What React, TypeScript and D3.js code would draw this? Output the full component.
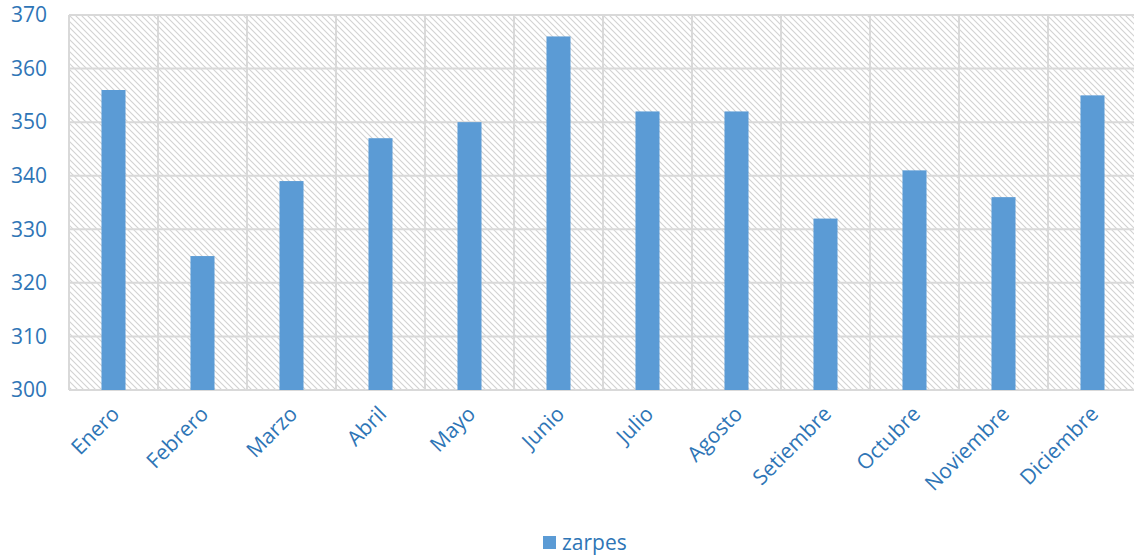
import React from "react";
import * as d3 from "d3";

const categories = ["Enero","Febrero","Marzo","Abril","Mayo","Junio","Julio","Agosto","Setiembre","Octubre","Noviembre","Diciembre"];
const zarpes = [356,325,339,347,350,366,352,352,332,341,336,355];
const yTicks = [300,310,320,330,340,350,360,370];
const seriesName = "zarpes";

const W = 1134, H = 556;
const margin = { left: 69, right: -3, top: 15, bottom: 166 };
const FONT = "'Open Sans', 'Liberation Sans', sans-serif";
const BLUE = "#5B9BD5";
const TEXT = "#2E75B6";

export default function App() {
  const x = d3.scaleBand().domain(categories).range([margin.left, W - margin.right]).paddingInner(0).paddingOuter(0);
  const y = d3.scaleLinear().domain([300, 370]).range([H - margin.bottom, margin.top]);
  const bw = x.bandwidth() * 0.27;
  const x0 = margin.left, x1 = W - margin.right, y0 = y(300), y1 = y(370);
  return (
    <svg width={W} height={H} style={{ position: "absolute", left: 0, top: 0, background: "#fff" }}>
      <defs>
        <pattern id="hatch" patternUnits="userSpaceOnUse" width="6" height="6">
          <rect width="6" height="6" fill="#fff" />
          <path d="M-1,-1 L7,7 M-7,-1 L1,7 M5,-1 L13,7" stroke="#d2d2d2" strokeWidth="1.1" />
        </pattern>
      </defs>
      <rect x={x0} y={y1} width={x1 - x0} height={y0 - y1} fill="url(#hatch)" />
      {yTicks.map(t => (
        <line key={t} x1={x0} x2={x1} y1={y(t)} y2={y(t)} stroke="#d9d9d9" strokeWidth={2} />
      ))}
      {categories.map((c, i) => (
        <line key={c} x1={x(c)!} x2={x(c)!} y1={y1} y2={y0} stroke="#d9d9d9" strokeWidth={2} />
      ))}
      <line x1={x1} x2={x1} y1={y1} y2={y0} stroke="#d9d9d9" strokeWidth={2} />
      {categories.map((c, i) => (
        <rect key={c} x={x(c)! + x.bandwidth() / 2 - bw / 2} y={y(zarpes[i])} width={bw} height={y0 - y(zarpes[i])} fill={BLUE} />
      ))}
      {yTicks.map(t => (
        <text key={t} x={47} y={y(t)} dy="0.35em" textAnchor="end" fontFamily={FONT} fontSize={21} fill={TEXT}>{t}</text>
      ))}
      {categories.map(c => {
        const cx = x(c)! + x.bandwidth() / 2 + 2;
        const cy = y0 + 20;
        return (
          <text key={c} transform={`translate(${cx},${cy}) rotate(-45)`} textAnchor="end" dy="0.35em" fontFamily={FONT} fontSize={21} fill={TEXT}>{c}</text>
        );
      })}
      <rect x={543} y={536} width={13} height={13} fill={BLUE} />
      <text x={562} y={543} dy="0.35em" fontFamily={FONT} fontSize={21} fill={TEXT}>{seriesName}</text>
    </svg>
  );
}
